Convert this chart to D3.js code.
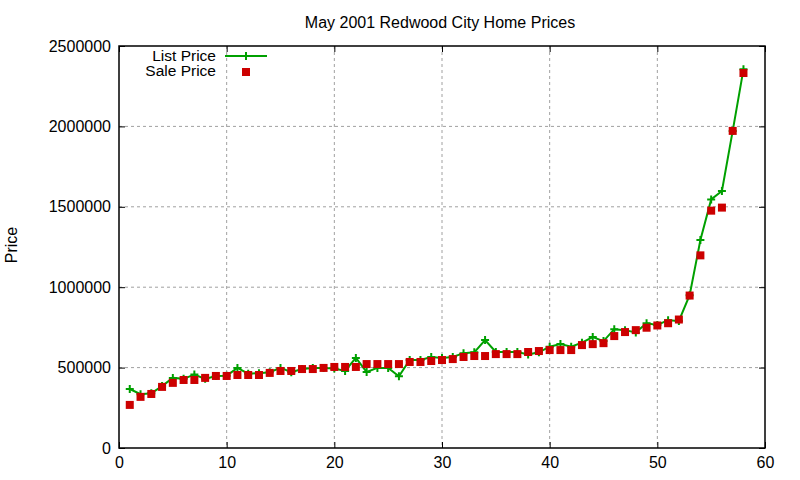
<!DOCTYPE html>
<html>
<head>
<meta charset="utf-8">
<script src="https://cdn.jsdelivr.net/npm/d3@7"></script>
<style>
body { margin: 0; background: #fff; }
text { font-family: "Liberation Sans", Arial, sans-serif; }
</style>
</head>
<body>
<svg width="800" height="480"></svg>
<script>
var svg = d3.select('svg');

var title = 'May 2001 Redwood City Home Prices';
var yLabel = 'Price';
var seriesNames = ['List Price', 'Sale Price'];

// house number 1..58
var houses = d3.range(1, 59);

var listPrice = [
  367000, 335000, 340000, 385000, 436000, 430000, 457000, 430000, 448000, 450000,
  498000, 462000, 465000, 471000, 498000, 471000, 491000, 498000, 498000, 495000,
  479000, 560000, 473000, 498000, 498000, 446000, 547000, 547000, 566000, 560000,
  566000, 590000, 595000, 671000, 597000, 597000, 597000, 582000, 595000, 630000,
  646000, 630000, 655000, 690000, 665000, 739000, 733000, 719000, 776000, 765000,
  795000, 790000, 950000, 1293000, 1546000, 1598000, 1972000, 2355000
];

var salePrice = [
  268000, 318000, 336000, 380000, 405000, 423000, 423000, 436000, 448000, 448000,
  454000, 454000, 454000, 467000, 479000, 479000, 491000, 491000, 498000, 504000,
  504000, 504000, 522000, 522000, 522000, 522000, 535000, 535000, 541000, 547000,
  553000, 566000, 572000, 572000, 584000, 584000, 584000, 597000, 603000, 609000,
  609000, 609000, 640000, 646000, 652000, 696000, 721000, 733000, 748000, 762000,
  776000, 799000, 948000, 1198000, 1476000, 1495000, 1972000, 2332000
];

var xTicks = [0, 10, 20, 30, 40, 50, 60];
var yTicks = [0, 500000, 1000000, 1500000, 2000000, 2500000];

var plotLeft = 119, plotRight = 765, plotTop = 46, plotBottom = 448;

var x = d3.scaleLinear().domain([0, 60]).range([plotLeft, plotRight]);
var y = d3.scaleLinear().domain([0, 2500000]).range([plotBottom, plotTop]);

// grid
svg.append('g').selectAll('line')
  .data(xTicks.slice(1, -1))
  .enter().append('line')
  .attr('x1', function(d){ return x(d) })
  .attr('x2', function(d){ return x(d) })
  .attr('y1', plotTop).attr('y2', plotBottom)
  .attr('stroke', '#a0a0a0').attr('stroke-width', 1)
  .attr('stroke-dasharray', '3,3');

svg.append('g').selectAll('line')
  .data(yTicks.slice(1, -1))
  .enter().append('line')
  .attr('y1', function(d){ return y(d) })
  .attr('y2', function(d){ return y(d) })
  .attr('x1', plotLeft).attr('x2', plotRight)
  .attr('stroke', '#a0a0a0').attr('stroke-width', 1)
  .attr('stroke-dasharray', '3,3');

// axes (ticks inward, mirrored)
var xAxis = svg.append('g')
  .attr('transform', 'translate(0,' + plotBottom + ')')
  .call(d3.axisBottom(x).tickValues(xTicks).tickSizeInner(-6).tickSizeOuter(0).tickPadding(9));
var xAxisTop = svg.append('g')
  .attr('transform', 'translate(0,' + plotTop + ')')
  .call(d3.axisTop(x).tickValues(xTicks).tickSizeInner(-6).tickSizeOuter(0).tickFormat(''));
var yAxis = svg.append('g')
  .attr('transform', 'translate(' + plotLeft + ',0)')
  .call(d3.axisLeft(y).tickValues(yTicks).tickSizeInner(-6).tickSizeOuter(0).tickPadding(8).tickFormat(d3.format('d')));
var yAxisRight = svg.append('g')
  .attr('transform', 'translate(' + plotRight + ',0)')
  .call(d3.axisRight(y).tickValues(yTicks).tickSizeInner(-6).tickSizeOuter(0).tickFormat(''));

[xAxis, xAxisTop, yAxis, yAxisRight].forEach(function(g){
  g.select('.domain').remove();
  g.selectAll('line').attr('stroke', '#000').attr('stroke-width', 1);
  g.selectAll('text').attr('font-size', 16).attr('fill', '#000')
    .attr('font-family', '"Liberation Sans", Arial, sans-serif');
});

svg.append('rect')
  .attr('x', plotLeft).attr('y', plotTop)
  .attr('width', plotRight - plotLeft).attr('height', plotBottom - plotTop)
  .attr('fill', 'none').attr('stroke', '#000').attr('stroke-width', 1.5);

// title and label
svg.append('text')
  .attr('x', 440).attr('y', 28)
  .attr('text-anchor', 'middle').attr('font-size', 16)
  .text(title);

svg.append('text')
  .attr('transform', 'translate(17,245) rotate(-90)')
  .attr('text-anchor', 'middle').attr('font-size', 16)
  .text(yLabel);

// list price line
var line = d3.line()
  .x(function(d, i){ return x(houses[i]) })
  .y(function(d){ return y(d) });

svg.append('path')
  .datum(listPrice)
  .attr('d', line)
  .attr('fill', 'none')
  .attr('stroke', '#00a000')
  .attr('stroke-width', 2);

function cross(g, cx, cy) {
  g.append('path')
    .attr('d', 'M' + (cx - 4) + ',' + cy + 'H' + (cx + 4) + 'M' + cx + ',' + (cy - 4) + 'V' + (cy + 4))
    .attr('stroke', '#00a000').attr('stroke-width', 2).attr('fill', 'none');
}

var crosses = svg.append('g');
listPrice.forEach(function(d, i){ cross(crosses, x(houses[i]), y(d)) });

// sale price squares
svg.selectAll('rect.sale')
  .data(salePrice)
  .enter()
  .append('rect')
  .attr('class', 'sale')
  .attr('x', function(d, i){ return x(houses[i]) - 4 })
  .attr('y', function(d){ return y(d) - 4 })
  .attr('width', 8)
  .attr('height', 8)
  .attr('fill', '#cc0000');

// legend
svg.append('text')
  .attr('x', 216).attr('y', 61)
  .attr('text-anchor', 'end').attr('font-size', 15.5)
  .text(seriesNames[0]);
svg.append('line')
  .attr('x1', 225).attr('x2', 267).attr('y1', 56).attr('y2', 56)
  .attr('stroke', '#00a000').attr('stroke-width', 2);
cross(svg, 246, 56);

svg.append('text')
  .attr('x', 216).attr('y', 76)
  .attr('text-anchor', 'end').attr('font-size', 15.5)
  .text(seriesNames[1]);
svg.append('rect')
  .attr('x', 242).attr('y', 68).attr('width', 8).attr('height', 8)
  .attr('fill', '#cc0000');
</script>
</body>
</html>
